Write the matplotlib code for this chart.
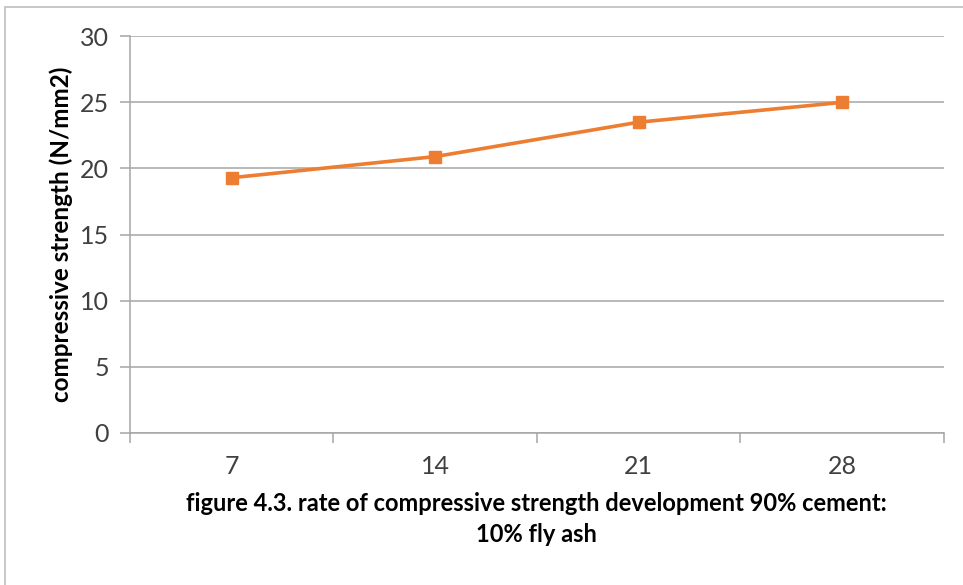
"""Compressive strength development, 90% cement : 10% fly ash."""
import matplotlib

matplotlib.use("Agg")
import matplotlib.pyplot as plt
from matplotlib.patches import Rectangle

ages = ["7", "14", "21", "28"]
strength = [19.3, 20.9, 23.5, 25.0]
y_ticks = [0, 5, 10, 15, 20, 25, 30]

GRID = "#a6a6a6"
ORANGE = "#ed7d31"


def main() -> None:
    plt.rcParams["font.family"] = ["Lato", "DejaVu Sans"]
    fig = plt.figure(figsize=(9.63, 5.85), dpi=100)
    ax = fig.add_axes([0.135, 0.260, 0.845, 0.678])

    # light frame round the chart area, as in the spreadsheet export
    fig.patches.append(
        Rectangle((5 / 963, -0.1), 1.2, 1.1 - 7 / 585,
                  transform=fig.transFigure, fill=False,
                  edgecolor="#bfbfbf", linewidth=1.2)
    )

    x = list(range(len(ages)))
    ax.plot(x, strength, color=ORANGE, linewidth=2.6, marker="s",
            markersize=9, zorder=3)

    ax.set_xlim(-0.5, len(ages) - 0.5)
    ax.set_ylim(0, 30)
    ax.set_yticks(y_ticks)
    ax.yaxis.grid(True, color=GRID, linewidth=1.1)
    ax.set_axisbelow(True)

    ax.set_xticks(x)
    ax.set_xticklabels(ages)
    ax.set_xticks([i - 0.5 for i in range(len(ages) + 1)], minor=True)
    ax.tick_params(axis="x", which="major", length=0, pad=16,
                   labelsize=18, labelcolor="#404040")
    ax.tick_params(axis="x", which="minor", length=7, color=GRID, width=1.1)
    ax.tick_params(axis="y", length=7, color=GRID, width=1.1, pad=8,
                   labelsize=18, labelcolor="#404040")

    for side in ("top", "right"):
        ax.spines[side].set_visible(False)
    for side in ("left", "bottom"):
        ax.spines[side].set_color(GRID)
        ax.spines[side].set_linewidth(1.1)

    ax.set_ylabel("compressive strength (N/mm2)", fontsize=17.5,
                  fontweight="bold", labelpad=5)
    ax.set_xlabel(
        "figure 4.3. rate of compressive strength development 90% cement:\n"
        "10% fly ash",
        fontsize=17, fontweight="bold", labelpad=10, linespacing=1.4,
    )

    fig.savefig("out.png", dpi=100)
    plt.close(fig)


if __name__ == "__main__":
    main()
